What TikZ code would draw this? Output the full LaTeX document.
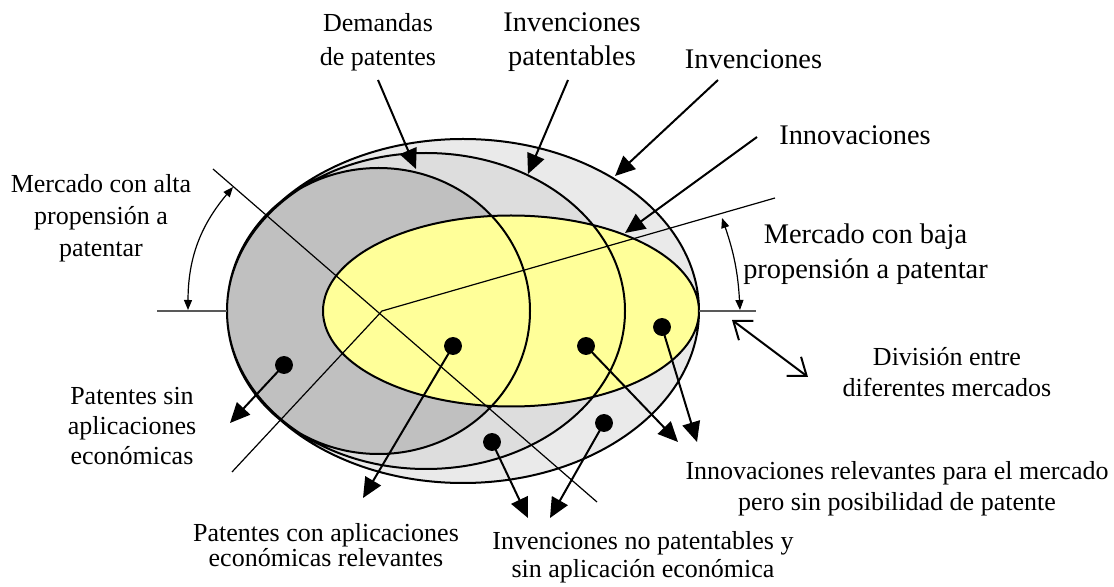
\documentclass[tikz,border=0pt]{standalone}
\usepackage{fontspec}
\setmainfont{Liberation Serif}
\usetikzlibrary{arrows.meta}
\definecolor{anilloext}{HTML}{EAEAEA}
\definecolor{anillomed}{HTML}{DDDDDD}
\definecolor{anilloint}{HTML}{C0C0C0}
\definecolor{amarillo}{HTML}{FFFF99}
\definecolor{grislinea}{HTML}{595959}
\begin{document}
\begin{tikzpicture}[x=0.5pt,y=-0.5pt,
	borde/.style={line width=1pt},
	fina/.style={line width=0.6pt},
	flecha/.style={line width=1pt,-{Triangle[length=10pt,width=9pt]}},
	arco/.style={line width=0.6pt,{Triangle[length=5pt,width=4pt]}-{Triangle[length=5pt,width=4pt]}},
	abierta/.style={line width=1pt,{Straight Barb[length=8pt,width=12pt]}-{Straight Barb[length=8pt,width=12pt]}},
	grande/.style={align=center,inner sep=0pt,anchor=base,font=\fontsize{14.2}{#1}\selectfont},
	grande/.default=17,
	chica/.style={align=center,inner sep=0pt,anchor=base,font=\fontsize{13}{#1}\selectfont},
	chica/.default=15.5]
	\useasboundingbox (0,0) rectangle (1114,587);
	% Centro de las divisiones
	\coordinate (O) at (382,311);
	% Elipses
	\fill[anilloext] (463,311) ellipse [x radius=236,y radius=172];
	\fill[anillomed] (426,311) ellipse [x radius=199,y radius=158];
	\fill[anilloint] (378.5,311) ellipse [x radius=151.5,y radius=143];
	\fill[amarillo] (511,311) ellipse [x radius=188,y radius=95.5];
	\draw[borde] (463,311) ellipse [x radius=236,y radius=172]
		(426,311) ellipse [x radius=199,y radius=158]
		(378.5,311) ellipse [x radius=151.5,y radius=143]
		(511,311) ellipse [x radius=188,y radius=95.5];
	
	% Rectas entre mercados
	\draw[fina,grislinea] (157,311) -- (227,311) (699,311) -- (756,311);
	\draw[fina] (213,169) -- (597,502);
	\draw[fina] (232,472) -- (O) -- (775,198);
	
	% Arcos de los mercados
	\coordinate (altaA) at (233,187);
	\coordinate (altaB) at (188,310);
	\coordinate (bajaA) at (722,218);
	\coordinate (bajaB) at (740,310);
	\draw[arco] (altaB) to[bend left=20] (altaA);
	\draw[arco] (bajaB) to[bend right=8] (bajaA);
	
	% Textos superiores
	\node[chica=17] (demandas) at (378,66) {Demandas\\de patentes};
	\node[grande] (patentables) at (572,66) {Invenciones\\patentables};
	\node[grande] (invenciones) at (753.5,69) {Invenciones};
	\node[grande] (innovaciones) at (855,145) {Innovaciones};
	\coordinate (demI) at (378,80);
	\coordinate (demF) at (416,169);
	\coordinate (patI) at (568,80);
	\coordinate (patF) at (528,174);
	\coordinate (invI) at (718,80);
	\coordinate (invF) at (615,176);
	\coordinate (innI) at (757,137);
	\coordinate (innF) at (625,233);
	\draw[flecha] (demI) -- (demF);
	\draw[flecha] (patI) -- (patF);
	\draw[flecha] (invI) -- (invF);
	\draw[flecha] (innI) -- (innF);
	
	% Puntos y flechas
	\coordinate (p1) at (284,365);
	\coordinate (p2) at (453,346);
	\coordinate (p3) at (586,346);
	\coordinate (p4) at (662,327);
	\coordinate (p5) at (492,442);
	\coordinate (p6) at (604,423);
	\coordinate (p1f) at (230,423);
	\coordinate (p2f) at (363,498);
	\coordinate (p3f) at (678,442);
	\coordinate (p4f) at (697,442);
	\coordinate (p5f) at (528,518);
	\coordinate (p6f) at (550,518);
	\draw[flecha] (p1) -- (p1f);
	\draw[flecha] (p2) -- (p2f);
	\draw[flecha] (p3) -- (p3f);
	\draw[flecha] (p4) -- (p4f);
	\draw[flecha] (p5) -- (p5f);
	\draw[flecha] (p6) -- (p6f);
	\filldraw (p1) circle (8.5);
	\filldraw (p2) circle (8.5);
	\filldraw (p3) circle (8.5);
	\filldraw (p4) circle (8.5);
	\filldraw (p5) circle (8.5);
	\filldraw (p6) circle (8.5);
	
	% División
	\coordinate (divA) at (732,320);
	\coordinate (divB) at (808,377);
	\draw[abierta] (divA) -- (divB);
	
	% Textos
	\node[chica=16] (alta) at (101,257) {Mercado con alta\\propensión a\\patentar};
	\node[grande=17.5] (baja) at (865.5,279) {Mercado con baja\\propensión a patentar};
	\node[chica=15.8] (division) at (947,397) {División entre\\diferentes mercados};
	\node[chica=15] (sinaplic) at (132,465) {Patentes sin\\aplicaciones\\económicas};
	\node[chica=15.4] (relevantes) at (897,510.5) {Innovaciones relevantes para el mercado\\pero sin posibilidad de patente};
	\node[chica=13.8] (nopat) at (643,577) {Invenciones no patentables y\\sin aplicación económica};
	\node[chica=13] (conaplic) at (326,567) {Patentes con aplicaciones\\económicas relevantes};
\end{tikzpicture}
\end{document}
